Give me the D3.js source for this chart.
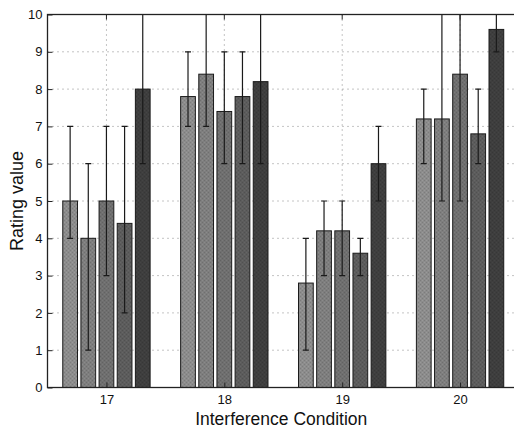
<!DOCTYPE html>
<html>
<head>
<meta charset="utf-8">
<script src="https://cdn.jsdelivr.net/npm/d3@7"></script>
<style>
  html, body { margin: 0; padding: 0; background: #fff; }
  svg { display: block; }
  text { font-family: "Liberation Sans", Arial, Helvetica, sans-serif; fill: #111; }
</style>
</head>
<body>
<svg id="chart" width="514" height="435"></svg>
<script>
// ---- data ----
const categories = ["17", "18", "19", "20"];
const series1 = [5.0, 7.8, 2.8, 7.2];
const series2 = [4.0, 8.4, 4.2, 7.2];
const series3 = [5.0, 7.4, 4.2, 8.4];
const series4 = [4.4, 7.8, 3.6, 6.8];
const series5 = [8.0, 8.2, 6.0, 9.6];
const lower1 = [4, 7, 1, 6];
const upper1 = [7, 9, 4, 8];
const lower2 = [1, 7, 3, 5];
const upper2 = [6, 10, 5, 10];
const lower3 = [3, 6, 3, 5];
const upper3 = [7, 9, 5, 10];
const lower4 = [2, 6, 3, 6];
const upper4 = [7, 9, 4, 8];
const lower5 = [6, 6, 5, 9];
const upper5 = [10, 10, 7, 10];
const yTicks = [0, 1, 2, 3, 4, 5, 6, 7, 8, 9, 10];
const xLabel = "Interference Condition";
const yLabel = "Rating value";

const seriesValues = [series1, series2, series3, series4, series5];
const seriesLower = [lower1, lower2, lower3, lower4, lower5];
const seriesUpper = [upper1, upper2, upper3, upper4, upper5];
const fills = ["#8c8c8c", "#7e7e7e", "#6f6f6f", "#5c5c5c", "#3e3e3e"];

// ---- layout ----
const svg = d3.select("#chart");
const L = 47.5, R = 519, T = 14.5, B = 387.5;
const x = d3.scaleLinear().domain([0.5, 4.5]).range([L, R]);
const y = d3.scaleLinear().domain([0, 10]).range([B, T]);
const step = 0.154, barW = 0.125;

// noise pattern for halftone look
const defs = svg.append("defs");
fills.forEach((c, i) => {
  const p = defs.append("pattern").attr("id", "pat" + i)
    .attr("patternUnits", "userSpaceOnUse").attr("width", 4).attr("height", 4);
  p.append("rect").attr("width", 4).attr("height", 4).attr("fill", c);
  const dark = d3.color(c).darker(0.35).formatHex();
  const light = d3.color(c).brighter(0.25).formatHex();
  p.append("rect").attr("x", 0).attr("y", 0).attr("width", 1).attr("height", 1).attr("fill", dark);
  p.append("rect").attr("x", 2).attr("y", 2).attr("width", 1).attr("height", 1).attr("fill", dark);
  p.append("rect").attr("x", 2).attr("y", 0).attr("width", 1).attr("height", 1).attr("fill", light);
  p.append("rect").attr("x", 0).attr("y", 2).attr("width", 1).attr("height", 1).attr("fill", light);
});
defs.append("clipPath").attr("id", "clip")
  .append("rect").attr("x", L).attr("y", T).attr("width", R - L).attr("height", B - T);

// grid
const grid = svg.append("g");
grid.selectAll(".hg").data(yTicks.filter(t => t > 0 && t < 10)).join("line")
  .attr("x1", L).attr("x2", R).attr("y1", d => y(d)).attr("y2", d => y(d))
  .attr("stroke", "#888").attr("stroke-width", 1).attr("stroke-dasharray", "1,4");
grid.selectAll(".vg").data(categories).join("line")
  .attr("x1", (d, i) => x(i + 1)).attr("x2", (d, i) => x(i + 1))
  .attr("y1", T).attr("y2", B)
  .attr("stroke", "#888").attr("stroke-width", 1).attr("stroke-dasharray", "1,4");

// bars
const plot = svg.append("g").attr("clip-path", "url(#clip)");
seriesValues.forEach((vals, s) => {
  const off = (s - 2) * step;
  plot.append("g").selectAll("rect").data(vals).join("rect")
    .attr("x", (d, i) => x(i + 1 + off - barW / 2))
    .attr("width", x(barW) - x(0))
    .attr("y", d => y(d))
    .attr("height", d => y(0) - y(d))
    .attr("fill", "url(#pat" + s + ")")
    .attr("stroke", "#1a1a1a").attr("stroke-width", 1);
});

// error bars
seriesValues.forEach((vals, s) => {
  const off = (s - 2) * step;
  const g = plot.append("g").attr("stroke", "#1a1a1a").attr("stroke-width", 1.2);
  vals.forEach((v, i) => {
    const cx = x(i + 1 + off);
    const lo = seriesLower[s][i], hi = seriesUpper[s][i];
    g.append("line").attr("x1", cx).attr("x2", cx).attr("y1", y(lo)).attr("y2", y(hi));
    g.append("line").attr("x1", cx - 3).attr("x2", cx + 3).attr("y1", y(lo)).attr("y2", y(lo));
    g.append("line").attr("x1", cx - 3).attr("x2", cx + 3).attr("y1", y(hi)).attr("y2", y(hi));
  });
});

// axes box
svg.append("rect").attr("x", L).attr("y", T).attr("width", R - L).attr("height", B - T)
  .attr("fill", "none").attr("stroke", "#222").attr("stroke-width", 1.3);

// y axis
const yAxis = d3.axisLeft(y).tickValues(yTicks).tickSizeInner(-5).tickSizeOuter(0).tickPadding(5);
const ya = svg.append("g").attr("transform", `translate(${L},0)`).call(yAxis);
ya.select(".domain").remove();
ya.selectAll("line").attr("stroke", "#222");
ya.selectAll("text").attr("font-size", "13px").attr("fill", "#111")
  .style("font-family", "'Liberation Sans', Arial, sans-serif");

// x axis
const xAxis = d3.axisBottom(x).tickValues([1, 2, 3, 4]).tickFormat((d) => categories[d - 1])
  .tickSizeInner(-5).tickSizeOuter(0).tickPadding(7);
const xa = svg.append("g").attr("transform", `translate(0,${B})`).call(xAxis);
xa.select(".domain").remove();
xa.selectAll("line").attr("stroke", "#222");
xa.selectAll("text").attr("font-size", "13px").attr("fill", "#111")
  .style("font-family", "'Liberation Sans', Arial, sans-serif");
// top ticks
svg.append("g").selectAll("line").data([1, 2, 3, 4]).join("line")
  .attr("x1", d => x(d)).attr("x2", d => x(d)).attr("y1", T).attr("y2", T + 5)
  .attr("stroke", "#222");

// labels
svg.append("text").attr("x", (L + R) / 2 - 2).attr("y", 425)
  .attr("text-anchor", "middle").attr("font-size", "17.5px").text(xLabel);
svg.append("text").attr("transform", `translate(23,${(T + B) / 2}) rotate(-90)`)
  .attr("text-anchor", "middle").attr("font-size", "18px").text(yLabel);
</script>
</body>
</html>
